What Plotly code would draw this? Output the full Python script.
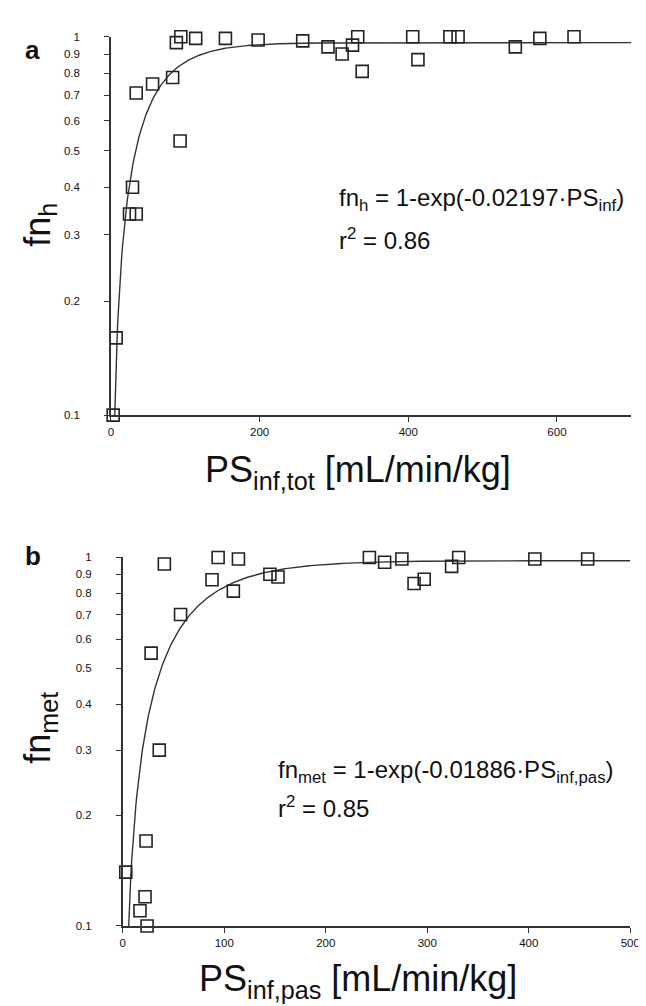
import numpy as np
import plotly.graph_objects as go

# ---- Panel a data ----
ps_tot = [3, 7, 29, 25, 34, 34, 56, 83, 93, 88, 94, 114, 154, 198, 258, 292,
          311, 325, 332, 338, 406, 413, 456, 467, 544, 577, 623]
fn_h = [0.10, 0.16, 0.40, 0.34, 0.34, 0.71, 0.75, 0.78, 0.53, 0.965, 1.0, 0.99,
        0.99, 0.98, 0.975, 0.94, 0.90, 0.95, 1.0, 0.81, 1.0, 0.87, 1.0, 1.0,
        0.94, 0.99, 1.0]
k_a = 0.02197
plateau_a = 0.965

# ---- Panel b data ----
ps_pas = [3, 23, 22, 17, 24, 36, 28, 41, 57, 88, 94, 109, 114, 145, 153,
          243, 258, 275, 287, 297, 324, 331, 406, 458]
fn_met = [0.14, 0.17, 0.12, 0.11, 0.10, 0.30, 0.55, 0.96, 0.70, 0.87, 1.0, 0.81,
          0.99, 0.90, 0.885, 1.0, 0.97, 0.99, 0.85, 0.873, 0.946, 1.0, 0.99, 0.99]
k_b = 0.01886
plateau_b = 0.98

y_ticks = [0.1, 0.2, 0.3, 0.4, 0.5, 0.6, 0.7, 0.8, 0.9, 1]
y_tick_text = ["0.1", "0.2", "0.3", "0.4", "0.5", "0.6", "0.7", "0.8", "0.9", "1"]
xa_ticks = [0, 200, 400, 600]
xb_ticks = [0, 100, 200, 300, 400, 500]

W, H = 646, 1006
def px(x):
    return x / W
def py(y):
    return 1 - y / H

fig = go.Figure()

fit_a_x = np.linspace(0.5, 700, 700)
fit_a_y = plateau_a * (1 - np.exp(-k_a * fit_a_x))
fit_b_x = np.linspace(0.5, 500, 600)
fit_b_y = plateau_b * (1 - np.exp(-k_b * fit_b_x))

line_col = "#333333"
fig.add_trace(go.Scatter(x=fit_a_x, y=fit_a_y, mode="lines",
                         line=dict(color=line_col, width=1.4),
                         xaxis="x", yaxis="y", showlegend=False))
fig.add_trace(go.Scatter(x=ps_tot, y=fn_h, mode="markers",
                         marker=dict(symbol="square-open", size=12,
                                     color="#222222", line=dict(width=1.6)),
                         xaxis="x", yaxis="y", showlegend=False, cliponaxis=False))
fig.add_trace(go.Scatter(x=fit_b_x, y=fit_b_y, mode="lines",
                         line=dict(color=line_col, width=1.4),
                         xaxis="x2", yaxis="y2", showlegend=False))
fig.add_trace(go.Scatter(x=ps_pas, y=fn_met, mode="markers",
                         marker=dict(symbol="square-open", size=12,
                                     color="#222222", line=dict(width=1.6)),
                         xaxis="x2", yaxis="y2", showlegend=False, cliponaxis=False))

tickfont = dict(family="Liberation Sans, Arial", size=11.5, color="#111")
common_x = dict(showgrid=False, zeroline=False, showline=True, linecolor=line_col,
                linewidth=1.5, ticks="outside", ticklen=5, tickwidth=1.2,
                tickcolor=line_col, tickfont=tickfont, ticklabelstandoff=0)
common_y = dict(type="log", range=[-1, 0], tickvals=y_ticks, ticktext=y_tick_text,
                showgrid=False, zeroline=False, showline=True, linecolor=line_col,
                linewidth=1.5, ticks="outside", ticklen=5, tickwidth=1.2,
                tickcolor=line_col, tickfont=tickfont, ticklabelstandoff=22)

fig.update_layout(
    width=W, height=H, margin=dict(l=0, r=0, t=0, b=0),
    paper_bgcolor="white", plot_bgcolor="white",
    xaxis=dict(domain=[px(102), px(633)], range=[0, 700], tickvals=xa_ticks,
               anchor="y", **common_x),
    yaxis=dict(domain=[py(406), py(23)], anchor="x", **common_y),
    xaxis2=dict(domain=[px(114), px(632)], range=[0, 500], tickvals=xb_ticks,
                anchor="y2", **common_x),
    yaxis2=dict(domain=[py(923), py(550)], anchor="x2", **common_y),
)

font_big = dict(family="Liberation Sans, Arial", size=36, color="#111")
font_mid = dict(family="Liberation Sans, Arial", size=24, color="#111")
font_lab = dict(family="Liberation Sans, Arial", size=26, color="#111")

annots = [
    dict(text="<b>a</b>", x=px(22), y=py(36), font=font_lab),
    dict(text="<b>b</b>", x=px(22), y=py(549), font=font_lab),
    dict(text="PS<sub>inf,tot</sub> [mL/min/kg]", x=px(354), y=py(464), font=font_big),
    dict(text="PS<sub>inf,pas</sub> [mL/min/kg]", x=px(354), y=py(979), font=font_big),
    dict(text="fn<sub>h</sub>", x=px(30), y=py(213), font=font_big, textangle=-90),
    dict(text="fn<sub>met</sub>", x=px(30), y=py(722), font=font_big, textangle=-90),
    dict(text="fn<sub>h</sub> = 1-exp(-0.02197·PS<sub>inf</sub>)", x=px(333), y=py(188),
         font=font_mid, xanchor="left"),
    dict(text="r<sup>2</sup> = 0.86", x=px(333), y=py(228), font=font_mid, xanchor="left"),
    dict(text="fn<sub>met</sub> = 1-exp(-0.01886·PS<sub>inf,pas</sub>)", x=px(270), y=py(767),
         font=font_mid, xanchor="left"),
    dict(text="r<sup>2</sup> = 0.85", x=px(270), y=py(803), font=font_mid, xanchor="left"),
]
for a in annots:
    a.setdefault("xanchor", "center")
    fig.add_annotation(xref="paper", yref="paper", showarrow=False, yanchor="middle", **a)

fig.write_html("out.html")
